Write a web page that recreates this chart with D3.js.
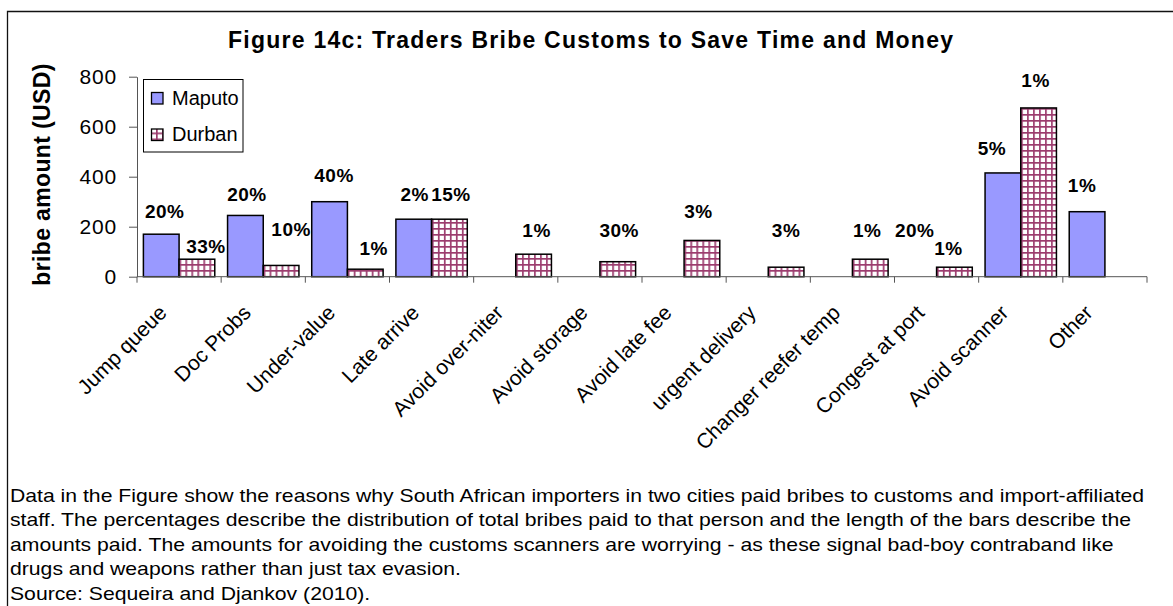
<!DOCTYPE html>
<html>
<head>
<meta charset="utf-8">
<script src="https://cdn.jsdelivr.net/npm/d3@7"></script>
<style>
  html, body { margin: 0; padding: 0; background: #fff; }
  svg { display: block; font-family: "Liberation Sans", Arial, Helvetica, sans-serif; }
</style>
</head>
<body>
<svg id="chart" width="1173" height="606"></svg>
<script>
// Reasons for bribes, amount paid (USD) and share of total bribes, by city
const categories = ["Jump queue", "Doc Probs", "Under-value", "Late arrive", "Avoid over-niter",
  "Avoid storage", "Avoid late fee", "urgent delivery", "Changer reefer temp", "Congest at port",
  "Avoid scanner", "Other"];
const seriesNames = ["Maputo", "Durban"];
const maputoUSD = [170, 245, 300, 230, 0, 0, 0, 0, 0, 0, 415, 260];
const durbanUSD = [70, 45, 30, 230, 90, 60, 145, 38, 70, 38, 675, 0];
const maputoShare = ["20%", "20%", "40%", "2%", "", "", "", "", "", "20%", "5%", "1%"];
const durbanShare = ["33%", "10%", "1%", "15%", "1%", "30%", "3%", "3%", "1%", "1%", "1%", ""];
const yTicks = [0, 200, 400, 600, 800];

const titleText = "Figure 14c: Traders Bribe Customs to Save Time and Money";
const yTitleText = "bribe amount (USD)";
const footnoteLines = [
  "Data in the Figure show  the reasons why South African importers in two cities paid bribes to customs and import-affiliated",
  "staff. The percentages describe the distribution of total bribes paid to that person and the length of the bars describe the",
  "amounts paid.  The amounts for avoiding the customs scanners are worrying - as these signal bad-boy contraband like",
  "drugs and weapons rather than just tax evasion.",
  "Source: Sequeira and Djankov (2010)."
];

const series = [
  { name: "Maputo", values: maputoUSD, shares: maputoShare },
  { name: "Durban", values: durbanUSD, shares: durbanShare }
];

const svg = d3.select("#chart");

// hatch fill used for the Durban bars
const defs = svg.append("defs");
const pat = defs.append("pattern")
  .attr("id", "smallGrid")
  .attr("width", 6).attr("height", 6)
  .attr("patternUnits", "userSpaceOnUse");
pat.append("rect").attr("width", 6).attr("height", 6).attr("fill", "#fff");
pat.append("rect").attr("x", 0).attr("y", 0).attr("width", 6).attr("height", 1.7).attr("fill", "#9c3c6e");
pat.append("rect").attr("x", 0).attr("y", 0).attr("width", 1.7).attr("height", 6).attr("fill", "#9c3c6e");

const fills = { Maputo: "#9999ff", Durban: "url(#smallGrid)" };

// frame around the figure
svg.append("path")
  .attr("d", "M7.5,606 V11.5 H1173")
  .attr("fill", "none").attr("stroke", "#111").attr("stroke-width", 1.3);

// plot area
const plot = { left: 137, right: 1147, top: 76.7, bottom: 276.7 };

const y = d3.scaleLinear().domain([0, 800]).range([plot.bottom, plot.top]);
const x0 = d3.scaleBand().domain(categories).range([plot.left, plot.right])
  .paddingInner(0.152).paddingOuter(0.076);
const x1 = d3.scaleBand().domain(seriesNames).range([0, x0.bandwidth()]);

// title
svg.append("text")
  .attr("x", 228).attr("y", 48)
  .attr("font-size", 23).attr("font-weight", "bold")
  .attr("textLength", 725).attr("lengthAdjust", "spacing")
  .text(titleText);

// y axis title
svg.append("text")
  .attr("transform", `translate(50,${(plot.top + plot.bottom) / 2 - 2}) rotate(-90)`)
  .attr("text-anchor", "middle")
  .attr("font-size", 23).attr("font-weight", "bold")
  .attr("textLength", 222).attr("lengthAdjust", "spacing")
  .text(yTitleText);

// y axis
const yAxis = svg.append("g")
  .attr("transform", `translate(${plot.left},0)`)
  .call(d3.axisLeft(y).tickValues(yTicks).tickSize(8).tickSizeOuter(0).tickPadding(12).tickFormat(d3.format("d")));
yAxis.select(".domain").attr("stroke", "#555");
yAxis.selectAll(".tick line").attr("stroke", "#555");
yAxis.selectAll(".tick text")
  .attr("font-size", 21).attr("font-family", "Liberation Sans, Arial, sans-serif")
  .attr("fill", "#000").attr("letter-spacing", 0.8);

// bars
const groups = svg.append("g").selectAll("g")
  .data(categories)
  .join("g")
  .attr("transform", d => `translate(${x0(d)},0)`);

series.forEach(s => {
  groups.filter((d, i) => s.values[i] > 0)
    .append("rect")
    .attr("x", d => x1(s.name))
    .attr("width", x1.bandwidth())
    .attr("y", d => y(s.values[categories.indexOf(d)]))
    .attr("height", d => y(0) - y(s.values[categories.indexOf(d)]))
    .attr("fill", fills[s.name])
    .attr("stroke", "#000").attr("stroke-width", 1.5);
});

// x axis line and ticks at category boundaries
const xAxis = svg.append("g");
xAxis.append("line")
  .attr("x1", plot.left).attr("x2", plot.right)
  .attr("y1", y(0)).attr("y2", y(0))
  .attr("stroke", "#555");
xAxis.selectAll("line.tick")
  .data(d3.range(categories.length + 1))
  .join("line")
  .attr("class", "tick")
  .attr("x1", i => x0.range()[0] + i * x0.step())
  .attr("x2", i => x0.range()[0] + i * x0.step())
  .attr("y1", y(0)).attr("y2", y(0) + 6)
  .attr("stroke", "#555");

// rotated category labels
xAxis.selectAll("text")
  .data(categories)
  .join("text")
  .attr("transform", d => `translate(${x0(d) + x0.bandwidth() / 2 - 11},314) rotate(-45)`)
  .attr("text-anchor", "end")
  .attr("font-size", 21)
  .text(d => d);

// share labels above the bars; a few are nudged clear of their neighbours
const labelNudge = {
  "Maputo|Jump queue": [3.5, 2], "Durban|Jump queue": [9, 12],
  "Maputo|Doc Probs": [1.5, 3.5], "Durban|Doc Probs": [10, -11],
  "Maputo|Under-value": [4.5, -2], "Durban|Under-value": [8.5, 4],
  "Maputo|Late arrive": [1, 0], "Durban|Late arrive": [1.5, 0],
  "Durban|Avoid over-niter": [3, 1], "Durban|Avoid storage": [1.5, -6.5],
  "Durban|Avoid late fee": [-3.5, -4], "Durban|urgent delivery": [0, -12],
  "Durban|Changer reefer temp": [-3, -4],
  "Maputo|Congest at port": [-4, -21.5], "Durban|Congest at port": [-6, 6],
  "Maputo|Avoid scanner": [-11, 0], "Durban|Avoid scanner": [-3, -3],
  "Maputo|Other": [-5, -2]
};
const labelLayer = svg.append("g");
series.forEach(s => {
  categories.forEach((c, i) => {
    if (!s.shares[i]) return;
    const nudge = labelNudge[s.name + "|" + c] || [0, 0];
    labelLayer.append("text")
      .attr("x", x0(c) + x1(s.name) + x1.bandwidth() / 2 + nudge[0])
      .attr("y", y(s.values[i]) - 18 + nudge[1])
      .attr("text-anchor", "middle")
      .attr("font-size", 19).attr("font-weight", "bold")
      .attr("letter-spacing", 0.5)
      .text(s.shares[i]);
  });
});

// legend
const legend = svg.append("g");
legend.append("rect")
  .attr("x", 143.5).attr("y", 79.5).attr("width", 99.5).attr("height", 72.5)
  .attr("fill", "#fff").attr("stroke", "#000").attr("stroke-width", 1);
series.forEach((s, i) => {
  const row = legend.append("g").attr("transform", `translate(0,${i * 36.5})`);
  row.append("rect")
    .attr("x", 151.5).attr("y", 92.5).attr("width", 11.5).attr("height", 11.5)
    .attr("fill", fills[s.name]).attr("stroke", "#000").attr("stroke-width", 1.3);
  row.append("text")
    .attr("x", 172).attr("y", 104.5)
    .attr("font-size", 20)
    .text(s.name);
});

// explanatory note and source under the chart (narrow setting)
const note = svg.append("g");
const noteText = note.selectAll("text")
  .data(footnoteLines)
  .join("text")
  .attr("x", 0)
  .attr("y", (d, i) => 502 + i * 24.5)
  .attr("font-size", 19)
  .text(d => d);
const firstLen = noteText.node().getComputedTextLength();
const sx = (1145 - 10) / firstLen;
note.attr("transform", `translate(10,0) scale(${sx},1)`);
</script>
</body>
</html>
